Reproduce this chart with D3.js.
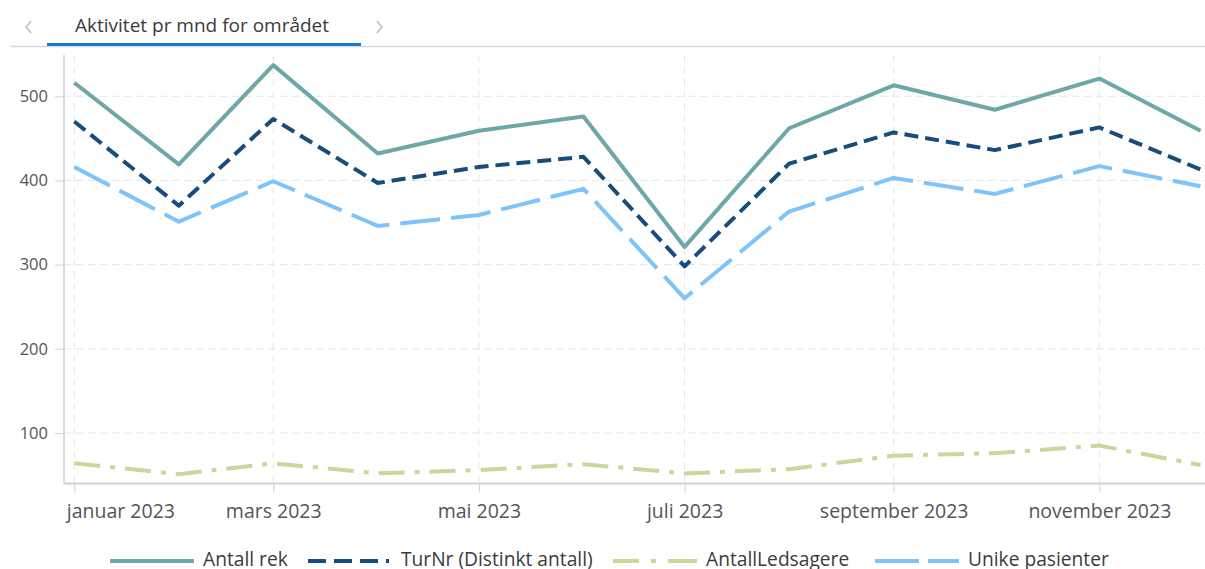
<!DOCTYPE html>
<html>
<head>
<meta charset="utf-8">
<script src="https://cdn.jsdelivr.net/npm/d3@7"></script>
<style>
  body { margin: 0; background: #fff; overflow: hidden; }
  svg { display: block; font-family: "Open Sans", "Noto Sans", sans-serif; }
</style>
</head>
<body>
<svg width="1205" height="569"></svg>
<script>
// data
var months = ["2023-01-01", "2023-02-01", "2023-03-01", "2023-04-01", "2023-05-01", "2023-06-01",
  "2023-07-01", "2023-08-01", "2023-09-01", "2023-10-01", "2023-11-01", "2023-12-01"];
var antallRek = [516, 419, 537, 432, 459, 476, 321, 462, 513, 484, 521, 459];
var turNr = [470, 370, 473, 397, 416, 428, 298, 420, 457, 436, 463, 413];
var ledsagere = [64, 51, 64, 52, 56, 63, 52, 57, 73, 76, 85, 62];
var unike = [416, 351, 399, 346, 359, 390, 260, 363, 403, 384, 417, 393];

var seriesNames = ["Antall rek", "TurNr (Distinkt antall)", "AntallLedsagere", "Unike pasienter"];
var tickMonths = ["2023-01-01", "2023-03-01", "2023-05-01", "2023-07-01", "2023-09-01", "2023-11-01"];
var tickLabels = ["januar 2023", "mars 2023", "mai 2023", "juli 2023", "september 2023", "november 2023"];
var yTicks = [100, 200, 300, 400, 500];
var title = "Aktivitet pr mnd for området";

var svg = d3.select("svg"),
  width = +svg.attr("width"),
  height = +svg.attr("height");

var parse = d3.timeParse("%Y-%m-%d");
var dates = months.map(parse);

var plotLeft = 64, plotRight = 1205, plotTop = 55, plotBottom = 483.5;

var x = d3.scaleTime()
  .domain([dates[0], dates[dates.length - 1]])
  .range([74.3, 1200.5]);
var y = d3.scaleLinear()
  .domain([40, 549])
  .range([plotBottom, plotTop]);

// tab header
svg.append("line")
  .attr("x1", 10).attr("x2", width)
  .attr("y1", 46.5).attr("y2", 46.5)
  .attr("stroke", "#d6d9e0").attr("stroke-width", 1.5);
svg.append("rect")
  .attr("x", 47).attr("y", 43).attr("width", 314).attr("height", 3)
  .attr("fill", "#1a78d0");
svg.append("text")
  .attr("x", 75).attr("y", 32)
  .attr("font-size", 19).attr("fill", "#3b3b3b")
  .text(title);
svg.append("path")
  .attr("d", "M31,21 L26,27 L31,33")
  .attr("fill", "none").attr("stroke", "#b8b8c0").attr("stroke-width", 1.3);
svg.append("path")
  .attr("d", "M377,21 L382,27 L377,33")
  .attr("fill", "none").attr("stroke", "#b8b8c0").attr("stroke-width", 1.3);

// grid
var grid = svg.append("g");
grid.selectAll(".hgrid")
  .data(yTicks)
  .enter()
  .append("line")
  .attr("x1", plotLeft).attr("x2", plotRight)
  .attr("y1", function (d) { return y(d); })
  .attr("y2", function (d) { return y(d); })
  .attr("stroke", "#e4e5ec").attr("stroke-width", 1)
  .attr("stroke-dasharray", "7,5");
grid.selectAll(".vgrid")
  .data(tickMonths)
  .enter()
  .append("line")
  .attr("x1", function (d) { return x(parse(d)); })
  .attr("x2", function (d) { return x(parse(d)); })
  .attr("y1", plotTop).attr("y2", plotBottom)
  .attr("stroke", "#e4e5ec").attr("stroke-width", 1)
  .attr("stroke-dasharray", "7,5");

// axes
var yAxis = svg.append("g")
  .attr("transform", "translate(" + plotLeft + ",0)")
  .call(d3.axisLeft(y).tickValues(yTicks).tickSize(9).tickPadding(7));
yAxis.select(".domain").remove();
yAxis.append("line")
  .attr("x1", 0).attr("x2", 0)
  .attr("y1", plotTop).attr("y2", plotBottom)
  .attr("stroke", "#cfcfd4").attr("stroke-width", 1.5);
yAxis.selectAll(".tick text").attr("font-size", 16.5);

var xAxis = svg.append("g")
  .attr("transform", "translate(0," + plotBottom + ")")
  .call(d3.axisBottom(x)
    .tickValues(tickMonths.map(parse))
    .tickFormat(function (d, i) { return tickLabels[i]; })
    .tickSize(9).tickPadding(12));
xAxis.select(".domain").remove();
xAxis.append("line")
  .attr("x1", plotLeft).attr("x2", plotRight)
  .attr("y1", 0).attr("y2", 0)
  .attr("stroke", "#cfcfd4").attr("stroke-width", 2);
xAxis.selectAll(".tick text").attr("font-size", 19.5);
// first label is pushed right so it stays inside the chart
xAxis.select(".tick text")
  .attr("text-anchor", "start")
  .attr("x", -8);

svg.selectAll(".tick line").attr("stroke", "#d4d4da");
svg.selectAll(".tick text")
  .attr("fill", "#555")
  .attr("font-family", "\"Open Sans\", \"Noto Sans\", sans-serif");

// lines
var series = [
  { name: seriesNames[0], values: antallRek, color: "#6ea7a7", dash: null, legendDash: null },
  { name: seriesNames[1], values: turNr, color: "#164c7e", dash: "14,7", legendDash: "18,8,18,8,18,8,3,20" },
  { name: seriesNames[2], values: ledsagere, color: "#c6d99b", dash: "26,10,5,10", legendDash: "26,12,5,12,30" },
  { name: seriesNames[3], values: unike, color: "#7ec3f9", dash: "40,11", legendDash: "44,9,40" }
];

var line = d3.line()
  .x(function (d, i) { return x(dates[i]); })
  .y(function (d) { return y(d); });

svg.append("defs").append("clipPath").attr("id", "plotclip")
  .append("rect")
  .attr("x", plotLeft).attr("y", 0)
  .attr("width", plotRight - plotLeft).attr("height", plotBottom);

svg.append("g")
  .attr("clip-path", "url(#plotclip)")
  .selectAll("path")
  .data(series.slice().reverse())
  .enter()
  .append("path")
  .attr("d", function (d) { return line(d.values); })
  .attr("fill", "none")
  .attr("stroke", function (d) { return d.color; })
  .attr("stroke-width", 4)
  .attr("stroke-linejoin", "round")
  .attr("stroke-dasharray", function (d) { return d.dash; });

// legend
var legendX = [110, 308, 613, 875];
var legend = svg.append("g")
  .selectAll("g")
  .data(series)
  .enter()
  .append("g")
  .attr("transform", function (d, i) { return "translate(" + legendX[i] + ",0)"; });
legend.append("line")
  .attr("x1", 0).attr("x2", 84)
  .attr("y1", 561).attr("y2", 561)
  .attr("stroke", function (d) { return d.color; })
  .attr("stroke-width", 4)
  .attr("stroke-dasharray", function (d) { return d.legendDash; });
legend.append("text")
  .attr("x", 93).attr("y", 566)
  .attr("font-size", 19.2)
  .attr("fill", "#3b3b3b")
  .text(function (d) { return d.name; });
</script>
</body>
</html>
